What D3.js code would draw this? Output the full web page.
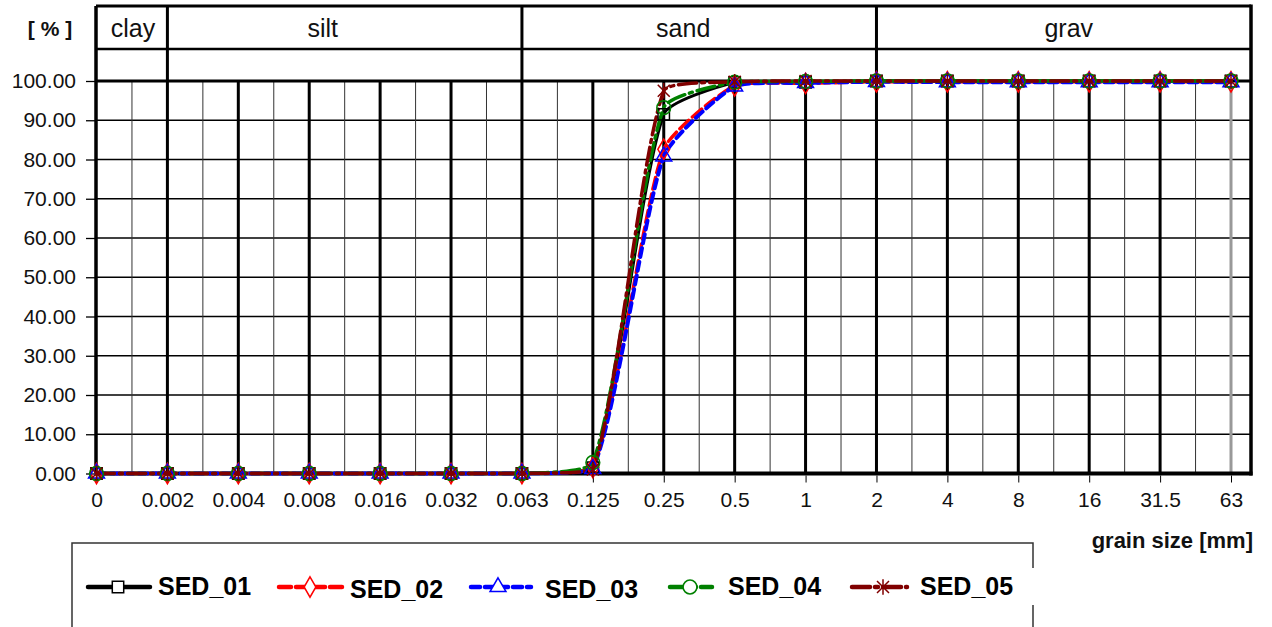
<!DOCTYPE html>
<html>
<head>
<meta charset="utf-8">
<script src="https://cdn.jsdelivr.net/npm/d3@7"></script>
<style>
  body { margin: 0; background: #fff; }
  svg { display: block; font-family: "Liberation Sans", Arial, sans-serif; }
</style>
</head>
<body>
<svg id="chart" width="1272" height="627"></svg>
<script>
// grain size classes (mm) on an evenly spaced category axis
const categories = ["0", "0.002", "0.004", "0.008", "0.016", "0.032", "0.063", "0.125",
  "0.25", "0.5", "1", "2", "4", "8", "16", "31.5", "63"];

// cumulative passing [%]
const sed01 = [0, 0, 0, 0, 0, 0, 0, 1.5, 91.5, 99.6, 99.7, 100, 100, 100, 100, 100, 100];
const sed02 = [0, 0, 0, 0, 0, 0, 0, 1.5, 82.6, 98.8, 99.4, 99.8, 99.8, 99.8, 99.8, 99.8, 99.8];
const sed03 = [0, 0, 0, 0, 0, 0, 0, 1.2, 80.8, 98.6, 99.5, 99.8, 99.7, 99.7, 99.7, 99.7, 99.7];
const sed04 = [0, 0, 0, 0, 0, 0, 0, 2.8, 93.2, 99.7, 99.9, 100, 100, 100, 100, 100, 100];
const sed05 = [0, 0, 0, 0, 0, 0, 0, 1.0, 97.5, 99.8, 100, 100, 100, 100, 100, 100, 100];

const seriesNames = ["SED_01", "SED_02", "SED_03", "SED_04", "SED_05"];
const yTicks = [0, 10, 20, 30, 40, 50, 60, 70, 80, 90, 100];

// soil classes and the category where each one starts
const soilClasses = ["clay", "silt", "sand", "grav"];
const classStarts = ["0", "0.002", "0.063", "2"];

const styles = [
  { color: "#000000", dash: null, width: 3, symbol: "square" },
  { color: "#ff0000", dash: "12,5", width: 3.5, symbol: "diamond" },
  { color: "#0000ff", dash: "9,5", width: 4, symbol: "triangle" },
  { color: "#008000", dash: "18,5,3,5", width: 3.5, symbol: "circle" },
  { color: "#800000", dash: "18,5,3,5", width: 3.5, symbol: "star" }
];

const values = [sed01, sed02, sed03, sed04, sed05];
const series = seriesNames.map((name, i) => ({
  name,
  style: styles[i],
  points: categories.map((c, j) => ({ cat: c, v: values[i][j] }))
}));

const svg = d3.select("#chart");

const frameTop = 6, rowLine = 49, y100 = 81, y0 = 473.5;
const frameLeft = 96, frameRight = 1251;

const x = d3.scalePoint().domain(categories).range([96.5, 1231]);
const step = x.step();
const y = d3.scaleLinear().domain([0, 100]).range([y0, y100]);

const grid = svg.append("g");

// horizontal grid
grid.selectAll("line.h")
  .data(yTicks.filter(d => d > 0 && d < 100))
  .join("line")
  .attr("x1", frameLeft).attr("x2", frameRight)
  .attr("y1", d => y(d)).attr("y2", d => y(d))
  .attr("stroke", "#000").attr("stroke-width", 1.3);

// minor verticals halfway between categories
grid.selectAll("line.minor")
  .data(categories.slice(0, -1))
  .join("line")
  .attr("x1", d => x(d) + step / 2).attr("x2", d => x(d) + step / 2)
  .attr("y1", y100).attr("y2", y0)
  .attr("stroke", "#333").attr("stroke-width", 1);

// major verticals at categories
grid.selectAll("line.major")
  .data(categories.slice(1))
  .join("line")
  .attr("x1", d => x(d)).attr("x2", d => x(d))
  .attr("y1", d => classStarts.includes(d) ? frameTop : y100)
  .attr("y2", y0)
  .attr("stroke", d => d === "63" ? "#999" : "#000")
  .attr("stroke-width", 3);

// frame, header rows, 100 line, bottom axis
const frame = svg.append("g").attr("stroke", "#000").attr("fill", "none");
frame.append("line").attr("x1", frameLeft).attr("x2", frameRight).attr("y1", frameTop).attr("y2", frameTop).attr("stroke-width", 3);
frame.append("line").attr("x1", frameLeft).attr("x2", frameRight).attr("y1", rowLine).attr("y2", rowLine).attr("stroke-width", 2.5);
frame.append("line").attr("x1", frameLeft).attr("x2", frameRight).attr("y1", y100).attr("y2", y100).attr("stroke-width", 3);
frame.append("line").attr("x1", frameLeft).attr("x2", frameLeft).attr("y1", frameTop).attr("y2", y0).attr("stroke-width", 3.5);
frame.append("line").attr("x1", frameRight).attr("x2", frameRight).attr("y1", frameTop - 1.5).attr("y2", y0 + 2).attr("stroke-width", 3.5);
frame.append("line").attr("x1", frameLeft - 1).attr("x2", frameRight + 1.5).attr("y1", y0).attr("y2", y0).attr("stroke-width", 4);

// class labels
const labelShift = [1, -22, -16, 5];
svg.append("g").selectAll("text")
  .data(soilClasses)
  .join("text")
  .attr("x", (d, i) => {
    const a = x(classStarts[i]);
    const b = i < soilClasses.length - 1 ? x(classStarts[i + 1]) : frameRight;
    return (a + b) / 2 + labelShift[i];
  })
  .attr("y", 37)
  .attr("text-anchor", "middle")
  .attr("font-size", 25)
  .attr("fill", "#111")
  .text(d => d);

svg.append("text")
  .attr("x", 50).attr("y", 36)
  .attr("text-anchor", "middle")
  .attr("font-size", 21).attr("font-weight", "bold")
  .attr("fill", "#111")
  .text("[ % ]");

// y axis
const yAxis = svg.append("g")
  .attr("transform", `translate(${frameLeft},0)`)
  .call(d3.axisLeft(y).tickValues(yTicks).tickFormat(d3.format(".2f")).tickSize(10).tickPadding(10))
  .call(g => g.select(".domain").remove());
yAxis.selectAll("line").attr("stroke", "#000").attr("stroke-width", 1.3);
yAxis.selectAll("text").attr("font-size", 21).attr("fill", "#111")
  .attr("font-family", "Liberation Sans, Arial, sans-serif");

// x axis
const xAxis = svg.append("g")
  .attr("transform", `translate(0,${y0 + 2})`)
  .call(d3.axisBottom(x).tickSize(7).tickPadding(10))
  .call(g => g.select(".domain").remove());
xAxis.selectAll("line").attr("stroke", "#000").attr("stroke-width", 1);
xAxis.selectAll("text").attr("font-size", 21).attr("fill", "#111")
  .attr("font-family", "Liberation Sans, Arial, sans-serif");

svg.append("text")
  .attr("x", 1253).attr("y", 548)
  .attr("text-anchor", "end")
  .attr("font-size", 22).attr("font-weight", "bold")
  .attr("fill", "#111")
  .text("grain size [mm]");

// spreadsheet-style smoothing: bezier handles along the neighbour chord,
// scaled by the segment length and kept inside the plot range
const smoothPath = (pts, k = 0.18) => {
  const p = d3.path();
  const n = pts.length;
  const unit = (a, b) => {
    const dx = b[0] - a[0], dy = b[1] - a[1], l = Math.hypot(dx, dy) || 1;
    return [dx / l, dy / l];
  };
  const clampY = v => Math.max(y100, Math.min(y0, v));
  p.moveTo(pts[0][0], pts[0][1]);
  for (let i = 0; i < n - 1; i++) {
    const p0 = pts[Math.max(i - 1, 0)], p1 = pts[i], p2 = pts[i + 1], p3 = pts[Math.min(i + 2, n - 1)];
    const len = Math.hypot(p2[0] - p1[0], p2[1] - p1[1]) * k;
    const t1 = unit(p0, p2), t2 = unit(p1, p3);
    p.bezierCurveTo(
      p1[0] + t1[0] * len, clampY(p1[1] + t1[1] * len),
      p2[0] - t2[0] * len, clampY(p2[1] - t2[1] * len),
      p2[0], p2[1]);
  }
  return p.toString();
};

// curves
const plot = svg.append("g");
series.forEach(s => {
  plot.append("path")
    .attr("d", smoothPath(s.points.map(d => [x(d.cat), y(d.v)])))
    .attr("fill", "none")
    .attr("stroke", s.style.color)
    .attr("stroke-width", s.style.width)
    .attr("stroke-dasharray", s.style.dash)
    .attr("stroke-linecap", "round");
});

// marker shapes
const markerPath = (kind) => {
  if (kind === "square") return d3.symbol(d3.symbolSquare, 130)();
  if (kind === "diamond") return d3.symbol(d3.symbolDiamond, 120)();
  if (kind === "triangle") return d3.symbol(d3.symbolTriangle, 110)();
  if (kind === "circle") return d3.symbol(d3.symbolCircle, 150)();
  const s = 6;
  return `M${-s},${-s}L${s},${s}M${-s},${s}L${s},${-s}M0,${-s * 1.3}L0,${s * 1.3}`;
};

series.forEach(s => {
  plot.append("g").selectAll("path")
    .data(s.points)
    .join("path")
    .attr("transform", d => `translate(${x(d.cat)},${y(d.v)})`)
    .attr("d", markerPath(s.style.symbol))
    .attr("fill", "none")
    .attr("stroke", s.style.color)
    .attr("stroke-width", 1.5);
});

// legend
const legend = svg.append("g");
legend.append("path")
  .attr("d", "M72,627V543H1033V568M1033,605V627")
  .attr("fill", "none").attr("stroke", "#333").attr("stroke-width", 1.5);

const legendSlots = [
  { x0: 88, x1: 150, m: 118, tx: 158, ty: 595 },
  { x0: 279, x1: 343, m: 310, tx: 350, ty: 598 },
  { x0: 471, x1: 531, m: 498, tx: 545, ty: 598 },
  { x0: 670, x1: 712, m: 690, tx: 728, ty: 595 },
  { x0: 852, x1: 907, m: 883, tx: 920, ty: 595 }
];

series.forEach((s, i) => {
  const slot = legendSlots[i];
  const g = legend.append("g");
  g.append("line")
    .attr("x1", slot.x0).attr("x2", slot.x1)
    .attr("y1", 587).attr("y2", 587)
    .attr("stroke", s.style.color)
    .attr("stroke-width", 4.5)
    .attr("stroke-dasharray", s.style.dash)
    .attr("stroke-linecap", "round");
  g.append("path")
    .attr("transform", `translate(${slot.m},587)`)
    .attr("d", markerPath(s.style.symbol))
    .attr("fill", s.style.symbol === "star" ? "none" : "#fff")
    .attr("stroke", s.style.color)
    .attr("stroke-width", 1.5);
  g.append("text")
    .attr("x", slot.tx).attr("y", slot.ty)
    .attr("font-size", 25).attr("font-weight", "bold")
    .attr("fill", "#000")
    .text(s.name);
});
</script>
</body>
</html>
